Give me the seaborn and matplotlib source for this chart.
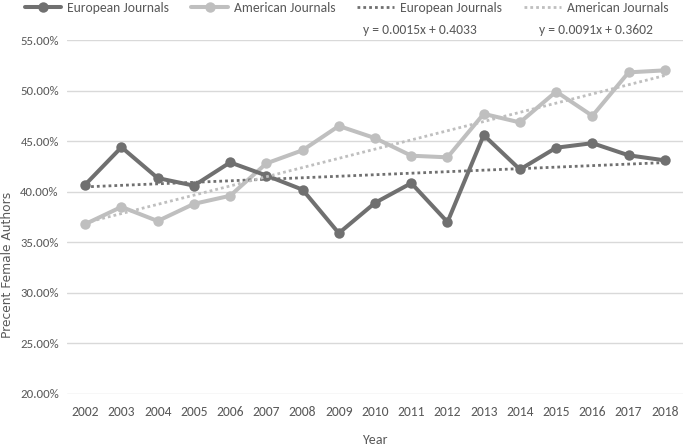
import matplotlib
matplotlib.use("Agg")
import matplotlib.pyplot as plt
import seaborn as sns
import numpy as np
import pandas as pd
from matplotlib.lines import Line2D
from matplotlib.ticker import PercentFormatter

years = list(range(2002, 2019))
european = [0.407, 0.444, 0.4135, 0.406, 0.429, 0.416, 0.402, 0.359, 0.389,
            0.4085, 0.370, 0.456, 0.422, 0.4435, 0.448, 0.436, 0.431]
american = [0.368, 0.385, 0.371, 0.388, 0.396, 0.428, 0.441, 0.465, 0.453,
            0.4356, 0.434, 0.477, 0.4685, 0.499, 0.475, 0.518, 0.520]
eu_trend = (0.0015, 0.4033)
am_trend = (0.0091, 0.3602)
y_ticks = [0.20, 0.25, 0.30, 0.35, 0.40, 0.45, 0.50, 0.55]
series_names = ["European Journals", "American Journals"]
eq_labels = ["y = 0.0015x + 0.4033", "y = 0.0091x + 0.3602"]

sns.set_style("white")
plt.rcParams['font.family'] = ['Carlito', 'DejaVu Sans']

dark = "#707070"
light = "#bfbfbf"
txt = "#595959"
fs = 9.8

df = pd.DataFrame({"Year": years * 2,
                   "Value": european + american,
                   "Series": [series_names[0]] * len(years) + [series_names[1]] * len(years)})

fig = plt.figure(figsize=(6.85, 4.46), dpi=100)
ax = fig.add_axes([0.098, 0.1166, 0.899, 0.7937])

for y in y_ticks:
    ax.axhline(y, color="#d9d9d9", lw=1.0, zorder=0)

sns.lineplot(data=df, x="Year", y="Value", hue="Series", hue_order=series_names[::-1],
             palette={series_names[0]: dark, series_names[1]: light},
             marker="o", markersize=7.5, markeredgewidth=0, linewidth=2.9,
             ax=ax, legend=False)
idx = np.arange(1, len(years) + 1)
dots = (0, (1, 1.1))
ax.plot(years, eu_trend[0] * idx + eu_trend[1], color=dark, lw=2.0, ls=dots, zorder=4)
ax.plot(years, am_trend[0] * idx + am_trend[1], color=light, lw=2.0, ls=dots, zorder=4)

ax.set_xlim(2001.5, 2018.5)
ax.set_ylim(0.20, 0.55)
ax.set_xticks(years)
ax.set_xticklabels([str(y) for y in years])
ax.set_yticks(y_ticks)
ax.yaxis.set_major_formatter(PercentFormatter(1.0, decimals=2))
ax.tick_params(axis="x", colors=txt, labelsize=fs, length=0, pad=9)
ax.tick_params(axis="y", colors=txt, labelsize=9.2, length=0, pad=6)
for s in ax.spines.values():
    s.set_visible(False)
ax.set_xlabel("Year", color=txt, fontsize=fs + 0.3, labelpad=11)
ax.set_ylabel("Precent Female Authors", color=txt, fontsize=8.8,
              family=['DejaVu Sans'])
ax.yaxis.set_label_coords((13.9 - 67) / 616, 0.364)

fig.text(419.5 / 685, 1 - 30 / 446, eq_labels[0], color=txt, fontsize=fs, ha="center", va="center")
fig.text(595.5 / 685, 1 - 30 / 446, eq_labels[1], color=txt, fontsize=fs, ha="center", va="center")

handles = [
    Line2D([], [], color=dark, lw=2.9, marker="o", ms=7.5, mew=0),
    Line2D([], [], color=light, lw=2.9, marker="o", ms=7.5, mew=0),
    Line2D([], [], color=dark, lw=2.0, ls=dots),
    Line2D([], [], color=light, lw=2.0, ls=dots),
]
labels = series_names + series_names
leg = fig.legend(handles, labels, loc="center", bbox_to_anchor=(0.506, 0.982), ncol=4,
                 frameon=False, fontsize=fs, handlelength=2.7, handletextpad=0.45,
                 columnspacing=1.6, labelcolor=txt)

fig.savefig("out.png", dpi=100)
